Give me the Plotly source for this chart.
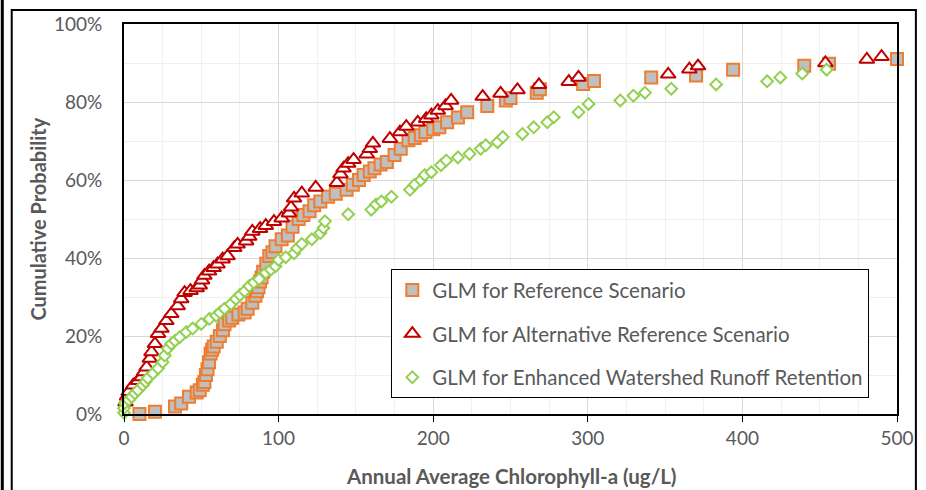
import plotly.graph_objects as go

# ---------------- data ----------------
ref_x = [10, 20, 33, 37, 42, 47, 49, 51, 52, 53, 54, 55, 56, 57, 58, 60, 62, 64, 65, 68,
         70, 74, 78, 80, 83, 85, 86, 87, 88, 89, 90, 92, 94, 96, 98, 102, 106, 109, 113, 116,
         120, 123, 127, 132, 137, 144, 148, 152, 155, 159, 162, 166, 170, 175, 179, 184, 188,
         192, 195, 200, 204, 209, 216, 222, 235, 247, 250, 267, 269, 297, 304, 341, 370, 394,
         440, 456, 500]
ref_y = [0.0, 0.6, 1.9, 2.7, 4.4, 5.5, 6.1, 7.5, 8.2, 10.0, 11.5, 13.3, 15.5, 16.5, 17.3, 18.5,
         20.0, 21.5, 23.0, 24.0, 24.7, 25.5, 26.0, 27.0, 28.5, 30.3, 31.5, 32.5, 34.0, 35.0,
         36.5, 38.5, 40.5, 41.5, 43.0, 44.8, 45.8, 48.0, 50.0, 51.0, 52.0, 53.5, 54.5, 55.7,
         56.5, 57.5, 58.8, 60.0, 61.3, 62.2, 63.0, 64.0, 64.6, 66.4, 68.0, 70.2, 70.8, 71.5,
         72.3, 73.0, 73.5, 74.8, 76.0, 77.4, 79.0, 80.4, 81.0, 82.4, 83.3, 84.6, 85.4, 86.3,
         86.8, 88.3, 89.3, 89.8, 91.0]

alt_x = [1, 2, 3, 6, 9, 11.4, 13, 14.6, 16.7, 17.8, 20, 22, 24.2, 27.4, 30.6, 34.7, 37, 39.2,
         43, 47, 49, 50.5, 52, 55, 58, 60.5, 63.8, 67, 71.3, 73.5, 79, 81, 83, 88, 91.7, 97,
         102, 106.7, 108, 110, 115, 124, 137.7, 140, 142, 145, 148.5, 157, 159, 161, 172,
         178.5, 182.6, 190, 195.4, 198.8, 203, 208, 211.6, 232, 243.6, 254.5, 268.4, 287.7,
         294, 352, 365.7, 371.3, 453.7, 480.5, 490]
alt_y = [3.0, 4.5, 5.7, 7.4, 8.5, 9.5, 10.8, 12.0, 14.2, 15.9, 18.0, 20.6, 21.9, 23.9, 25.7,
         27.7, 29.5, 31.1, 31.6, 32.3, 33.0, 34.3, 35.5, 36.6, 37.5, 38.4, 39.7, 40.5, 42.6,
         43.5, 44.3, 45.5, 46.8, 47.5, 48.3, 49.3, 50.2, 51.5, 53.0, 55.3, 56.6, 58.1, 59.3,
         61.5, 63.0, 64.2, 65.2, 66.6, 68.0, 69.4, 70.6, 72.3, 73.7, 74.8, 75.7, 76.6, 77.8,
         79.0, 80.4, 81.4, 82.2, 83.1, 84.4, 85.2, 86.3, 87.1, 88.4, 89.2, 90.0, 90.9, 91.6]

enh_x = [0, 0, 0.6, 3, 5, 7, 9, 12.2, 14, 15.4, 18.7, 22, 25, 26.3, 28.3, 30.6, 33, 36, 40.3,
         44.4, 50, 55.3, 59.6, 62, 65, 69.2, 72.4, 75, 78, 81, 84, 87.4, 91.7, 95, 98, 100,
         104.6, 110, 112, 115, 121.5, 127, 129, 130, 145, 160, 163, 166.5, 173, 185, 188, 192,
         194.5, 198.8, 205, 208.4, 216, 223.5, 230.7, 234, 241.6, 245, 257.7, 265, 273.8, 278,
         294, 300.5, 321, 329.5, 337, 354, 383, 416, 424.5, 438.7, 454.5]
enh_y = [0.3, 1.5, 2.8, 3.6, 4.4, 5.3, 6.1, 7.4, 8.3, 9.2, 10.4, 11.7, 13.3, 15.0, 16.8, 18.0,
         18.8, 19.7, 21.0, 21.9, 23.1, 24.4, 25.2, 26.0, 27.0, 28.2, 29.5, 30.5, 31.5, 32.8,
         33.7, 34.6, 36.2, 37.0, 37.9, 39.5, 40.2, 41.2, 42.5, 43.6, 44.8, 46.4, 47.7, 49.4,
         51.2, 52.4, 53.7, 54.5, 55.7, 57.5, 58.8, 60.0, 61.3, 62.0, 63.8, 65.0, 65.8, 66.7,
         68.0, 68.9, 69.7, 71.0, 71.8, 73.5, 74.8, 76.1, 77.4, 79.5, 80.4, 81.6, 82.4, 83.4,
         84.5, 85.3, 86.3, 87.3, 88.3]

series_names = ["GLM for Reference Scenario",
                "GLM for Alternative Reference Scenario",
                "GLM for Enhanced Watershed Runoff Retention"]

x_ticks = [0, 100, 200, 300, 400, 500]
y_ticks = [0, 0.2, 0.4, 0.6, 0.8, 1.0]
y_tick_text = ["0%", "20%", "40%", "60%", "80%", "100%"]

TXT = "#595959"
FONT = "Lato"

fig = go.Figure()
fig.add_trace(go.Scatter(
    x=ref_x, y=[v / 100 for v in ref_y], mode="markers", name=series_names[0],
    legendgroup="a", cliponaxis=False,
    marker=dict(symbol="square", size=12, color="#BFBFBF",
                line=dict(color="#ED7D31", width=2))))
fig.add_trace(go.Scatter(
    x=alt_x, y=[v / 100 for v in alt_y], mode="markers", name=series_names[1],
    legendgroup="b", cliponaxis=False,
    marker=dict(symbol="triangle-up", size=13, color="white",
                line=dict(color="#C00000", width=2))))
fig.add_trace(go.Scatter(
    x=enh_x, y=[v / 100 for v in enh_y], mode="markers", name=series_names[2],
    legendgroup="c", cliponaxis=False,
    marker=dict(symbol="diamond", size=9, color="white",
                line=dict(color="#92D050", width=2))))

fig.update_layout(
    width=926, height=490,
    margin=dict(l=124, r=24, t=21, b=76),
    paper_bgcolor="white", plot_bgcolor="white",
    font=dict(family=FONT, color=TXT, size=19),
    showlegend=True,
    legend=dict(x=0.3458, y=0.3715, xanchor="left", yanchor="top",
                bgcolor="white", bordercolor="#000000", borderwidth=1,
                font=dict(family=FONT, size=20.5, color=TXT),
                tracegroupgap=14, itemsizing="trace"),
    xaxis=dict(range=[0, 500], tickvals=x_ticks, ticktext=[str(v) for v in x_ticks],
               showgrid=True, gridcolor="#D9D9D9", gridwidth=1,
               minor=dict(dtick=25, tick0=0, showgrid=True, gridcolor="#F0F0F0", gridwidth=1),
               showline=True, linecolor="black", linewidth=2, mirror=True,
               ticks="outside", ticklen=6, tickcolor="black", tickwidth=1,
               zeroline=False, tickfont=dict(size=19, color=TXT)),
    yaxis=dict(range=[0, 1], tickvals=y_ticks, ticktext=y_tick_text,
               showgrid=True, gridcolor="#D9D9D9", gridwidth=1,
               minor=dict(dtick=0.1, tick0=0, showgrid=True, gridcolor="#F0F0F0", gridwidth=1),
               showline=True, linecolor="black", linewidth=2, mirror=True,
               ticks="", zeroline=False, ticklabelstandoff=16,
               tickfont=dict(size=19, color=TXT)),
)

# axis titles
fig.add_annotation(text="<b>Annual Average Chlorophyll-a (ug/L)</b>", xref="paper", yref="paper",
                   x=0.5, y=-0.158, xanchor="center", yanchor="middle", showarrow=False,
                   font=dict(family=FONT, size=20.5, color=TXT))
fig.add_annotation(text="<b>Cumulative Probability</b>", xref="paper", yref="paper",
                   x=(37 - 124) / 778, y=0.5, xanchor="center", yanchor="middle",
                   textangle=-90, showarrow=False,
                   font=dict(family=FONT, size=20, color=TXT))

# outer chart frame
fig.add_shape(type="rect", xref="paper", yref="paper",
              x0=(11 - 124) / 778, x1=(921 - 124) / 778,
              y0=(414 - 495) / 393, y1=(414 - 7) / 393,
              line=dict(color="black", width=2), fillcolor="rgba(0,0,0,0)", layer="below")
fig.add_shape(type="line", xref="paper", yref="paper",
              x0=(1.5 - 124) / 778, x1=(1.5 - 124) / 778,
              y0=(414 - 495) / 393, y1=(414 + 5) / 393,
              line=dict(color="black", width=3))

fig.write_html("out.html")
